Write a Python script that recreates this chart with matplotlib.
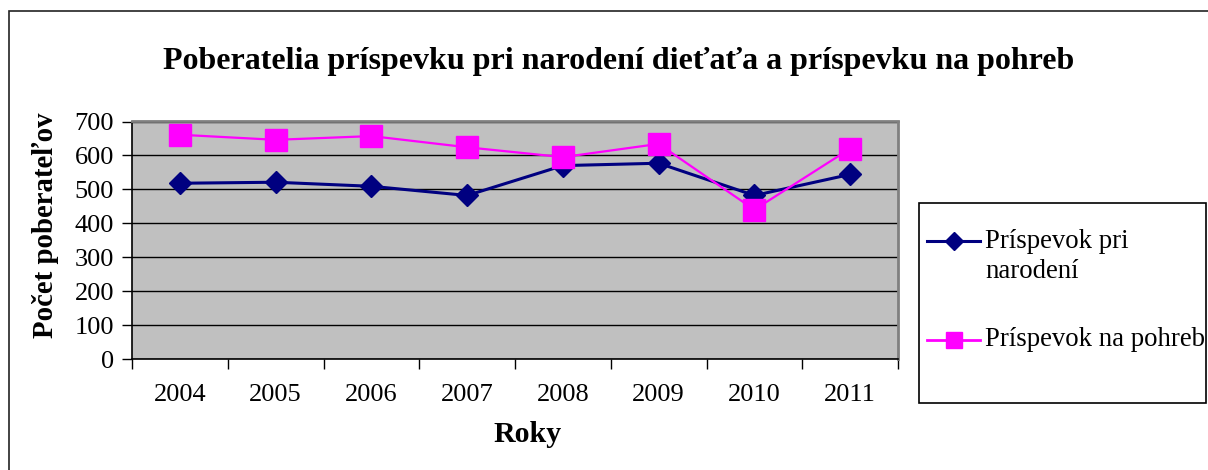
import matplotlib
matplotlib.use("Agg")
import matplotlib.pyplot as plt
from matplotlib.lines import Line2D
from matplotlib.patches import Rectangle

years = ["2004", "2005", "2006", "2007", "2008", "2009", "2010", "2011"]
narodenie = [518, 521, 509, 482, 570, 577, 482, 544]
pohreb = [661, 646, 657, 624, 595, 634, 440, 620]
series_names = ["Príspevok pri\nnarodení", "Príspevok na pohreb"]
title = "Poberatelia príspevku pri narodení dieťaťa a príspevku na pohreb"
xlabel = "Roky"
ylabel = "Počet poberateľov"
yticks = [0, 100, 200, 300, 400, 500, 600, 700]

W, H = 1208, 470
plt.rcParams['font.family'] = ['Liberation Serif', 'DejaVu Serif']
fig = plt.figure(figsize=(W / 100, H / 100), dpi=100)
fig.patch.set_facecolor('white')

def fx(px):
    return px / W

def fy(py):
    return 1 - py / H

# outer chart border (left and top visible)
fig.add_artist(Rectangle((fx(9), fy(475)), fx(1215) - fx(9), fy(11) - fy(475),
                         transform=fig.transFigure, fill=False,
                         edgecolor='#222222', linewidth=1.2))

ax = fig.add_axes([fx(132), fy(359), fx(898) - fx(132), fy(121.5) - fy(359)])
ax.set_facecolor('#C0C0C0')
x = list(range(len(years)))
ax.plot(x, narodenie, color='#000080', linewidth=2.2, marker='D', markersize=11.5,
        markerfacecolor='#000080', markeredgecolor='#000080', zorder=3)
ax.plot(x, pohreb, color='#FF00FF', linewidth=1.6, marker='s', markersize=16,
        markerfacecolor='#FF00FF', markeredgecolor='#FF00FF', zorder=4)

ax.set_ylim(0, 700)
ax.set_xlim(-0.5, len(years) - 0.5)
ax.set_yticks(yticks)
ax.set_yticklabels([str(v) for v in yticks], fontsize=19)
ax.yaxis.grid(True, color='black', linewidth=1.0)
ax.set_axisbelow(True)
ax.set_xticks([i - 0.5 for i in range(len(years) + 1)])
ax.set_xticklabels([])
ax.set_xticks(x, minor=True)
ax.set_xticklabels(years, minor=True, fontsize=19)
ax.tick_params(axis='x', which='minor', length=0, pad=18)
ax.tick_params(axis='x', which='major', length=7, width=1, color='black', direction='out')
ax.tick_params(axis='y', length=7, width=1, color='black', direction='out', pad=6)
for s in ['top', 'right']:
    ax.spines[s].set_color('#808080')
    ax.spines[s].set_linewidth(2)
for s in ['left', 'bottom']:
    ax.spines[s].set_color('black')
    ax.spines[s].set_linewidth(1.2)

fig.text(fx(619), fy(62), title, ha='center', va='center', fontsize=23, fontweight='bold')
fig.text(fx(527.5), fy(435), xlabel, ha='center', va='center', fontsize=21.5, fontweight='bold')
fig.text(fx(46), fy(225), ylabel, ha='center', va='center', rotation=90, fontsize=20.7,
         fontweight='bold')

# legend
fig.add_artist(Rectangle((fx(919), fy(403)), fx(1206) - fx(919), fy(203) - fy(403),
                         transform=fig.transFigure, facecolor='white',
                         edgecolor='black', linewidth=1.2))
fig.add_artist(Line2D([fx(927), fx(980)], [fy(241), fy(241)], transform=fig.transFigure,
                      color='#000080', linewidth=2.2))
fig.add_artist(Line2D([fx(953.5)], [fy(241)], transform=fig.transFigure, color='#000080',
                      marker='D', markersize=9, linestyle='none'))
fig.add_artist(Line2D([fx(927), fx(980)], [fy(340), fy(340)], transform=fig.transFigure,
                      color='#FF00FF', linewidth=2.0))
fig.add_artist(Line2D([fx(953.5)], [fy(340)], transform=fig.transFigure, color='#FF00FF',
                      marker='s', markersize=12, linestyle='none'))
fig.text(fx(985), fy(256.5), series_names[0], ha='left', va='center', fontsize=19.3,
         linespacing=1.3)
fig.text(fx(985), fy(340), series_names[1], ha='left', va='center', fontsize=19.3)

fig.savefig("out.png", dpi=100)
